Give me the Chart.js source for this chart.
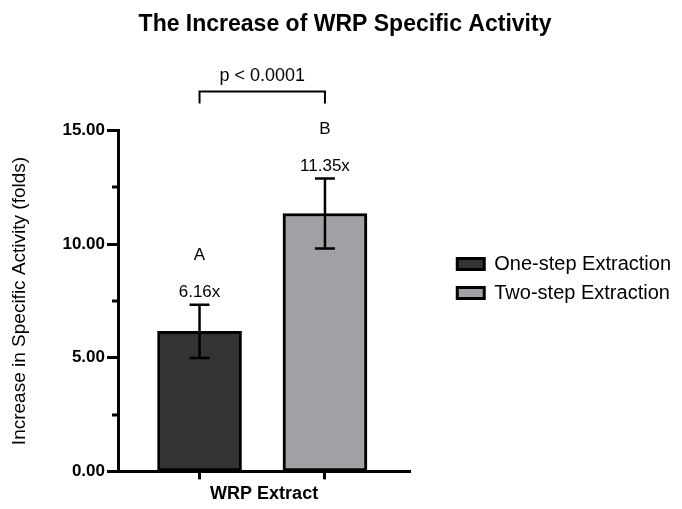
<!DOCTYPE html>
<html>
<head>
<meta charset="utf-8">
<script src="https://cdn.jsdelivr.net/npm/chart.js@4.4.1/dist/chart.umd.min.js"></script>
<style>
  html, body { margin: 0; padding: 0; background: #fff; }
  #wrap { width: 682px; height: 509px; }
</style>
</head>
<body>
<div id="wrap"><canvas id="c"></canvas></div>
<script>
// ---- data ----
const categories = ["One-step Extraction", "Two-step Extraction"];
const xPositions = [1, 2];
const foldIncrease = [6.16, 11.35];
const errorSD = [1.17, 1.54];
const valueLabels = ["6.16x", "11.35x"];
const groupLetters = ["A", "B"];
const pLabel = "p < 0.0001";
const barColors = ["#333333", "#a1a0a5"];

const yMajorTicks = [0, 5, 10, 15];
const yTickLabels = ["0.00", "5.00", "10.00", "15.00"];
const yMinorTicks = [2.5, 7.5, 12.5];

const FONT = "'Liberation Sans', Arial, sans-serif";
Chart.defaults.font.family = FONT;
Chart.defaults.color = "#000";

// error bars + letters + value labels + significance bracket
const annotatePlugin = {
  id: "annotate",
  afterLayout(chart) {
    // legend sits a bit away from the plot, title slightly right of centre
    const lg = chart.legend;
    const dx = chart.chartArea.right + 38 - lg.left;
    lg.left += dx; lg.right += dx;
    lg.top += 24; lg.bottom += 24;
    const tb = chart.titleBlock;
    const tdx = chart.width / 2 + 4 - (tb.left + tb.right) / 2;
    tb.left += tdx; tb.right += tdx;
  },
  afterDatasetsDraw(chart) {
    const { ctx, scales, chartArea } = chart;
    const y = scales.y;
    ctx.save();
    // minor y ticks
    ctx.strokeStyle = "#000";
    ctx.lineWidth = 3;
    for (const v of yMinorTicks) {
      const py = Math.round(y.getPixelForValue(v));
      ctx.beginPath();
      ctx.moveTo(chartArea.left - 6, py);
      ctx.lineTo(chartArea.left, py);
      ctx.stroke();
    }
    const xs = [];
    chart.data.datasets.forEach((ds, i) => {
      const bar = chart.getDatasetMeta(i).data[0];
      const cx = bar.x;
      const yTop = y.getPixelForValue(foldIncrease[i] + errorSD[i]);
      const yBot = y.getPixelForValue(foldIncrease[i] - errorSD[i]);
      ctx.lineWidth = 2.5;
      ctx.beginPath();
      ctx.moveTo(cx, yTop); ctx.lineTo(cx, yBot);
      ctx.moveTo(cx - 10, yTop); ctx.lineTo(cx + 10, yTop);
      ctx.moveTo(cx - 10, yBot); ctx.lineTo(cx + 10, yBot);
      ctx.stroke();
      ctx.fillStyle = "#000";
      ctx.textAlign = "center";
      ctx.textBaseline = "bottom";
      ctx.font = "17px " + FONT;
      ctx.fillText(valueLabels[i], cx, yTop - 4);
      ctx.fillText(groupLetters[i], cx, yTop - 41);
      xs.push(cx);
    });
    // bracket
    const by = chartArea.top - 39;
    ctx.lineWidth = 2;
    ctx.beginPath();
    ctx.moveTo(xs[0], by + 12);
    ctx.lineTo(xs[0], by);
    ctx.lineTo(xs[1], by);
    ctx.lineTo(xs[1], by + 12);
    ctx.stroke();
    ctx.font = "18px " + FONT;
    ctx.fillText(pLabel, (xs[0] + xs[1]) / 2, by - 7);
    ctx.restore();
  },
};

new Chart(document.getElementById("c"), {
  type: "bar",
  data: {
    datasets: categories.map((name, i) => ({
      label: name,
      data: [{ x: xPositions[i], y: foldIncrease[i] }],
      backgroundColor: barColors[i],
      borderColor: "#000",
      borderWidth: 3,
      borderSkipped: false,
      barThickness: 84,
      grouped: false,
    })),
  },
  options: {
    responsive: true,
    maintainAspectRatio: false,
    animation: false,
    layout: { padding: { right: 39 } },
    plugins: {
      title: {
        display: true,
        text: "The Increase of WRP Specific Activity",
        font: { size: 23, weight: "bold" },
        color: "#000",
        padding: { top: 11, bottom: 92 },
      },
      legend: {
        position: "right",
        maxWidth: 270,
        labels: {
          boxWidth: 27, boxHeight: 11, padding: 9,
          font: { size: 20, lineHeight: 1.0 },
          color: "#000",
        },
      },
      tooltip: { enabled: false },
    },
    scales: {
      x: {
        type: "linear",
        offset: false,
        min: 0.35, max: 2.68,
        afterBuildTicks: (s) => { s.ticks = xPositions.map((v) => ({ value: v })); },
        ticks: { display: false },
        grid: { offset: false, drawOnChartArea: false, drawTicks: true, tickLength: 8, tickWidth: 3, tickColor: "#000" },
        border: { display: true, color: "#000", width: 3 },
        title: { display: true, text: "WRP Extract", font: { size: 18, weight: "bold" }, color: "#000", padding: { top: 4, bottom: 4 } },
      },
      y: {
        min: 0, max: 15,
        afterBuildTicks: (s) => { s.ticks = yMajorTicks.map((v) => ({ value: v })); },
        afterFit: (s) => { s.width = 118; },
        ticks: {
          padding: 2,
          font: { size: 17, weight: "bold" },
          color: "#000",
          callback: (v) => { const i = yMajorTicks.indexOf(v); return i >= 0 ? yTickLabels[i] : ""; },
        },
        grid: { drawOnChartArea: false, drawTicks: true, tickLength: 11, tickWidth: 3, tickColor: "#000" },
        border: { display: true, color: "#000", width: 3 },
        title: { display: true, text: "Increase in Specific Activity (folds)", font: { size: 19 }, color: "#000", padding: { top: 8, bottom: 0 } },
      },
    },
  },
  plugins: [annotatePlugin],
});
</script>
</body>
</html>
